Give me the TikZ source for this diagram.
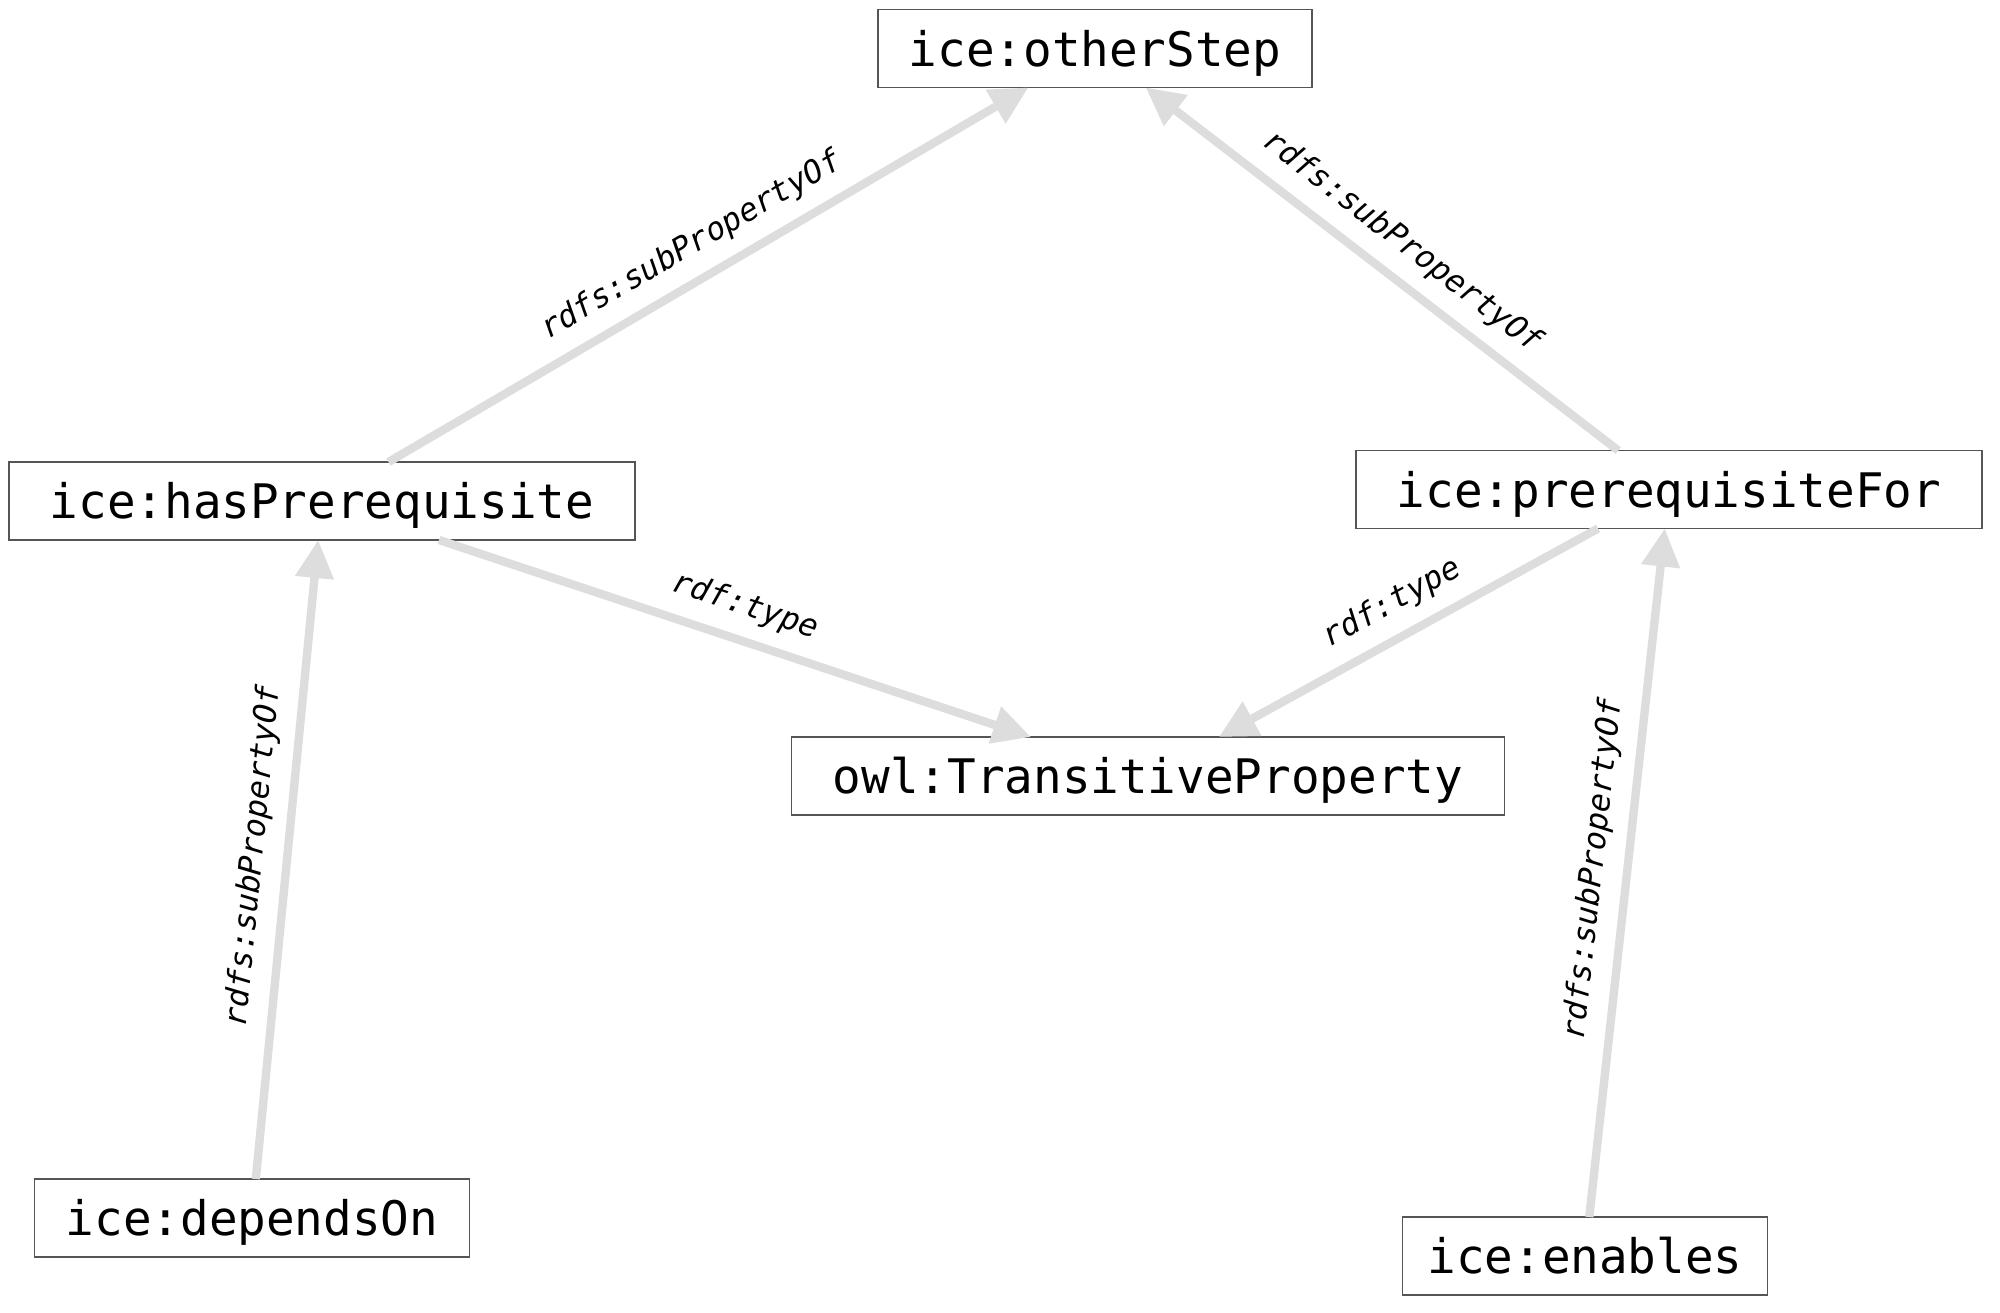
\documentclass[tikz,border=0pt]{standalone}
\usepackage{fontspec}
\setmonofont{DejaVu Sans Mono}
\usetikzlibrary{arrows.meta}
\definecolor{edgegray}{RGB}{221,221,221}
\definecolor{boxline}{RGB}{85,85,85}
\begin{document}
\begin{tikzpicture}[x=0.25pt,y=-0.25pt,
  box/.style={draw=boxline, line width=0.35pt, fill=white, inner sep=0pt, outer sep=0pt,
    minimum height=19.5pt, text height=10pt, text depth=1.2pt,
    font=\fontsize{11.9pt}{14pt}\selectfont\ttfamily},
  rel/.style={draw=edgegray, line width=2.1pt, -{Triangle[length=9.5pt,width=9.25pt]}},
  lbl/.style={midway, sloped, yshift=8.4pt, inner sep=0pt, text=black,
    font=\fontsize{7.9pt}{9pt}\selectfont\ttfamily\itshape}]
\useasboundingbox (0,0) rectangle (2000,1313);
\node[box, minimum width=108.5pt]  (os)  at (1095,48.5) {ice:otherStep};
\node[box, minimum width=156.5pt]  (hp)  at (322,501)   {ice:hasPrerequisite};
\node[box, minimum width=156.5pt]  (pf)  at (1669,489.5){ice:prerequisiteFor};
\node[box, minimum width=178.25pt] (owl) at (1148,776)  {owl:TransitiveProperty};
\node[box, minimum width=108.75pt] (dep) at (252,1218)  {ice:dependsOn};
\node[box, minimum width=91.25pt]  (en)  at (1585,1256) {ice:enables};
\draw[rel] (hp) -- node[lbl]{rdfs:subPropertyOf} (os);
\draw[rel] (pf) -- node[lbl]{rdfs:subPropertyOf} (os);
\draw[rel] (hp) -- node[lbl]{rdf:type} (owl);
\draw[rel] (pf) -- node[lbl]{rdf:type} (owl);
\draw[rel] (dep) -- node[lbl]{rdfs:subPropertyOf} (hp);
\draw[rel] (en) -- node[lbl]{rdfs:subPropertyOf} (pf);
\end{tikzpicture}
\end{document}
